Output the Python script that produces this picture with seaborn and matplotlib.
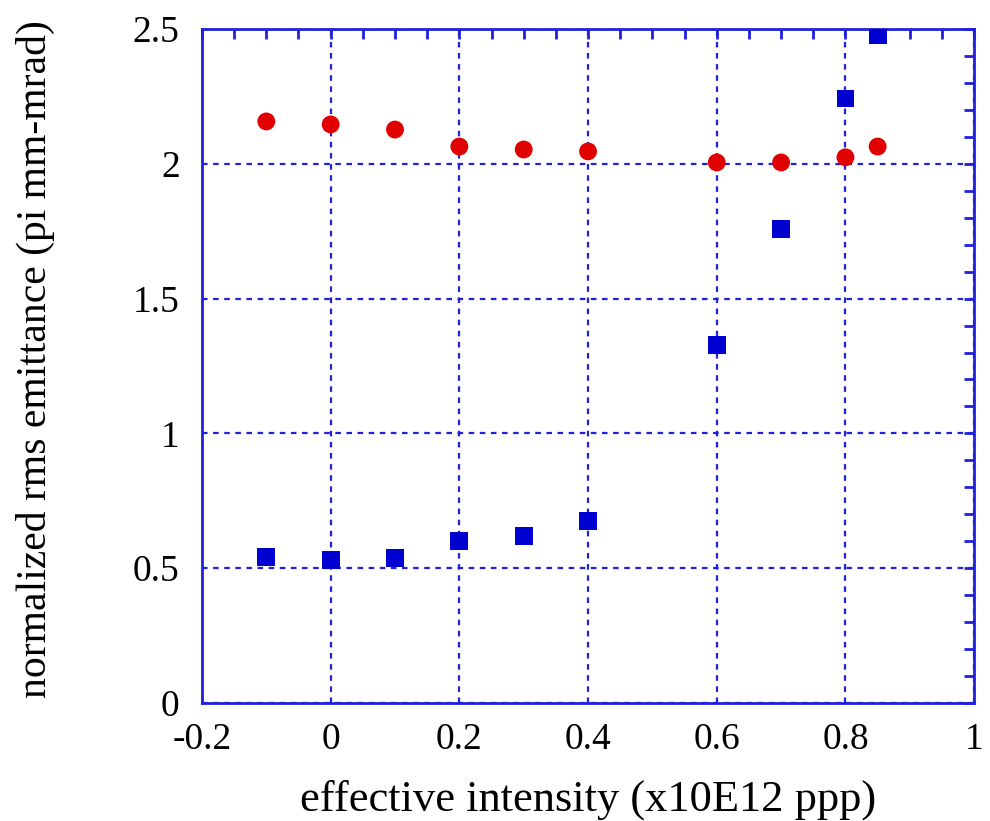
import pandas as pd
import matplotlib.pyplot as plt
import seaborn as sns
from matplotlib.ticker import MultipleLocator

intensity = [-0.1, 0.0, 0.1, 0.2, 0.3, 0.4, 0.6, 0.7, 0.8, 0.85]
emit_red = [2.157, 2.146, 2.127, 2.064, 2.053, 2.046, 2.005, 2.005, 2.024, 2.064]
emit_blue = [0.541, 0.530, 0.537, 0.600, 0.619, 0.675, 1.327, 1.757, 2.242, 2.476]

df = pd.DataFrame({
    "x": intensity * 2,
    "y": emit_red + emit_blue,
    "series": ["red"] * len(intensity) + ["blue"] * len(intensity),
})

sns.set_style("white")
plt.rcParams['font.family'] = ['Liberation Serif', 'DejaVu Serif']
plt.rcParams['text.color'] = 'black'
plt.rcParams['axes.labelcolor'] = 'black'

frame = "#2020dd"
fig = plt.figure(figsize=(9.9, 8.21), dpi=100)
ax = fig.add_axes([0.204, 0.1437, 0.78, 0.821])

sns.scatterplot(data=df, x="x", y="y", hue="series", style="series",
                palette={"red": "#e00000", "blue": "#0000d0"},
                markers={"red": "o", "blue": "s"},
                s=165, linewidth=0, legend=False, ax=ax, zorder=3)

ax.set_xlim(-0.2, 1.0)
ax.set_ylim(0, 2.5)
ax.xaxis.set_minor_locator(MultipleLocator(0.05))
ax.yaxis.set_minor_locator(MultipleLocator(0.1))
ax.set_xticks([-0.2, 0, 0.2, 0.4, 0.6, 0.8, 1.0])
ax.set_xticklabels(["-0.2", "0", "0.2", "0.4", "0.6", "0.8", "1"])
ax.set_yticks([0, 0.5, 1, 1.5, 2, 2.5])
ax.set_yticklabels(["0", "0.5", "1", "1.5", "2", "2.5"])

ax.grid(True, which="major", color=frame, linestyle=(0, (2.5, 2.5)), linewidth=1.6)
ax.tick_params(which="both", direction="in", top=True, right=True,
               color=frame, width=2, length=7, labelsize=27, labelcolor="black")
ax.tick_params(axis="x", pad=14)
ax.tick_params(axis="y", pad=16)
for sp in ax.spines.values():
    sp.set_color(frame)
    sp.set_linewidth(2)

ax.set_xlabel("effective intensity (x10E12 ppp)", fontsize=32, labelpad=16)
ax.set_ylabel("normalized rms emittance (pi mm-mrad)", fontsize=30)
ax.yaxis.set_label_coords(-0.19, 0.51)

fig.savefig("out.png", dpi=100)
